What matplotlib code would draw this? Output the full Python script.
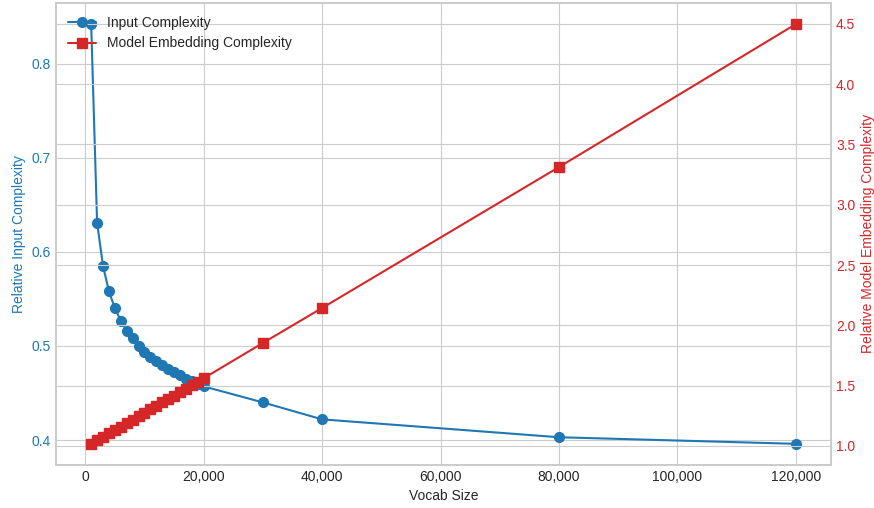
import matplotlib
matplotlib.use("Agg")
import matplotlib.pyplot as plt
from matplotlib.ticker import FuncFormatter

# vocab sizes and relative complexities
vocab = [1000, 2000, 3000, 4000, 5000, 6000, 7000, 8000, 9000, 10000,
         11000, 12000, 13000, 14000, 15000, 16000, 17000, 18000, 19000, 20000,
         30000, 40000, 80000, 120000]
input_cplx = [0.842, 0.631, 0.585, 0.558, 0.540, 0.527, 0.516, 0.508, 0.500, 0.494,
              0.488, 0.484, 0.480, 0.476, 0.472, 0.469, 0.465, 0.463, 0.460, 0.457,
              0.440, 0.422, 0.403, 0.396]
embed_cplx = [1.017, 1.046, 1.074, 1.103, 1.131, 1.160, 1.189, 1.217, 1.246, 1.274,
              1.303, 1.332, 1.360, 1.389, 1.417, 1.446, 1.475, 1.503, 1.532, 1.561,
              1.854, 2.144, 3.313, 4.499]

plt.style.use("seaborn-v0_8-whitegrid")
blue = "#1f77b4"
red = "#d62728"

fig, ax1 = plt.subplots(figsize=(8.74, 5.08), dpi=100)
l1, = ax1.plot(vocab, input_cplx, color=blue, marker="o", markersize=7, linewidth=1.5, label="Input Complexity")
ax1.set_xlabel("Vocab Size")
ax1.set_ylabel("Relative Input Complexity", color=blue)
ax1.tick_params(axis="y", labelcolor=blue)
ax1.xaxis.set_major_formatter(FuncFormatter(lambda v, p: f"{int(v):,}"))

ax2 = ax1.twinx()
l2, = ax2.plot(vocab, embed_cplx, color=red, marker="s", markersize=6.5, linewidth=1.5, label="Model Embedding Complexity")
ax2.set_ylabel("Relative Model Embedding Complexity", color=red)
ax2.tick_params(axis="y", labelcolor=red)

for ax in (ax1, ax2):
    for s in ax.spines.values():
        s.set_color("0.8")
        s.set_linewidth(1.25)

# legend on the twin axes so it sits above both grids
ax2.legend([l1, l2], [l1.get_label(), l2.get_label()], loc="upper left", frameon=False)

fig.subplots_adjust(left=0.064, right=0.951, top=0.994, bottom=0.085)
fig.savefig("out.png", dpi=100)
